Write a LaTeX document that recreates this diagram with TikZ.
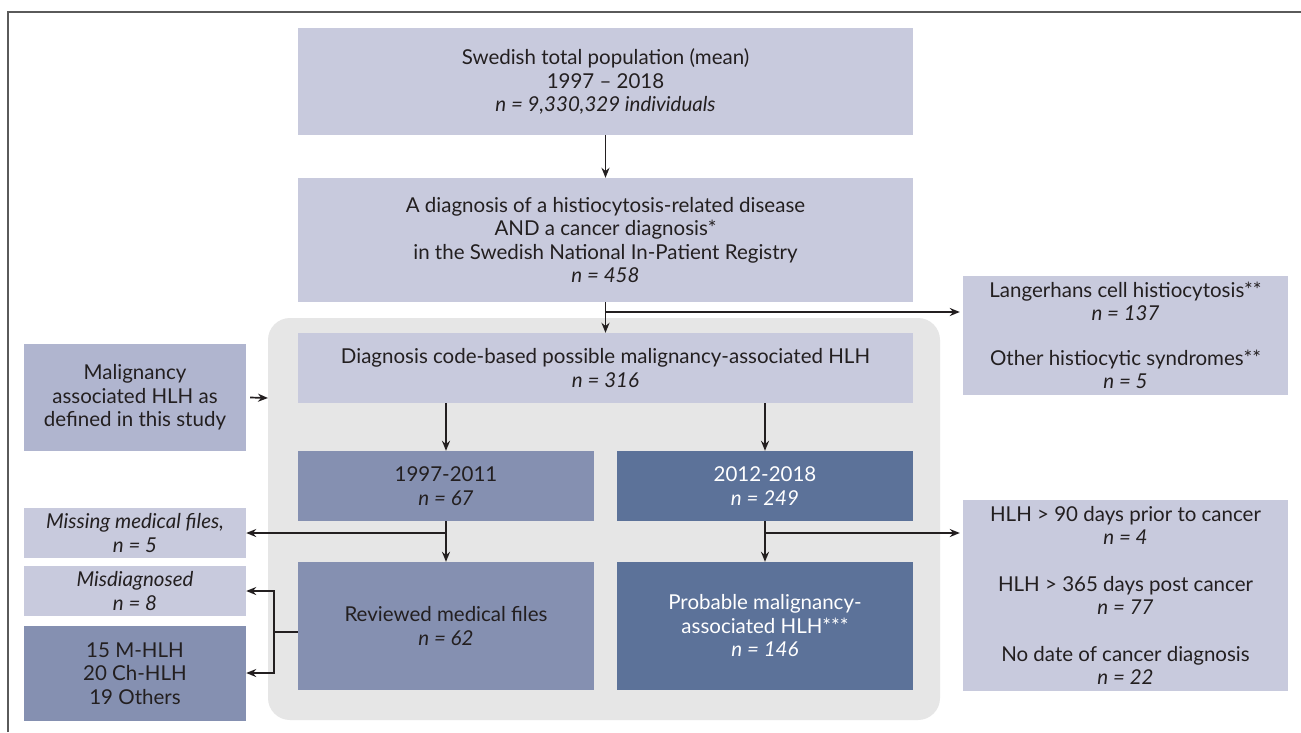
\documentclass[tikz,border=0pt]{standalone}
\usepackage{fontspec}
\setmainfont{Lato}
\usetikzlibrary{arrows.meta}
\definecolor{lightb}{HTML}{C8CADD}
\definecolor{malb}{HTML}{B0B5CF}
\definecolor{midb}{HTML}{8590B1}
\definecolor{darkb}{HTML}{5C7299}
\definecolor{regiong}{HTML}{E6E6E6}
\definecolor{txt}{HTML}{231F20}
\definecolor{framec}{HTML}{5A5A5A}
\tikzset{
  box/.style={rectangle, inner sep=0pt, align=center, text=txt, font=\fontsize{20.5}{23.5}\selectfont},
  lbox/.style={box, fill=lightb},
  mbox/.style={box, fill=midb},
  dbox/.style={box, fill=darkb, text=white},
  arr/.style={line width=1.7pt, draw=txt, -{Stealth[length=10pt,width=8pt]}},
  ln/.style={line width=1.7pt, draw=txt},
}
\begin{document}
\begin{tikzpicture}[x=1pt,y=-1pt]
\useasboundingbox (0,0) rectangle (1301,732);
\fill[white] (0,0) rectangle (1301,732);
\draw[framec, line width=2pt] (8,732) -- (8,12) -- (1301,12);

\fill[regiong, rounded corners=22pt] (268,318) rectangle (940,720);
\coordinate (regW) at (268,398);

\node[lbox, minimum width=615pt, minimum height=107pt] (pop) at (605.5,81.5)
  {Swedish total population (mean)\\ 1997 -- 2018\\ \itshape n = 9,330,329 individuals};
\node[lbox, minimum width=615pt, minimum height=124pt] (diag) at (605.5,240)
  {A diagnosis of a histiocytosis-related disease\\ AND a cancer diagnosis*\\ in the Swedish National In-Patient Registry\\ \itshape n = 458};
\node[lbox, minimum width=615pt, minimum height=70pt] (code) at (605.5,368)
  {Diagnosis code-based possible malignancy-associated HLH\\ \itshape n = 316};
\node[mbox, minimum width=296pt, minimum height=70pt] (early) at (446,486)
  {1997-2011\\ \itshape n = 67};
\node[dbox, minimum width=296pt, minimum height=70pt] (late) at (765,486)
  {2012-2018\\ \itshape n = 249};
\node[mbox, minimum width=296pt, minimum height=128pt] (rev) at (446,626)
  {Reviewed medical files\\ \itshape n = 62};
\node[dbox, minimum width=296pt, minimum height=128pt] (prob) at (765,626)
  {Probable malignancy-\\ associated HLH***\\ \itshape n = 146};

\node[box, fill=malb, minimum width=222pt, minimum height=107pt] (mal) at (135,397.5)
  {Malignancy\\ associated HLH as\\ defined in this study};
\node[lbox, minimum width=222pt, minimum height=50pt] (miss) at (135,533)
  {\itshape Missing medical files,\\ \itshape n = 5};
\node[lbox, minimum width=222pt, minimum height=50pt] (misd) at (135,591)
  {\itshape Misdiagnosed\\ \itshape n = 8};
\node[mbox, minimum width=222pt, minimum height=95pt] (mhlh) at (135,673.5)
  {15 M-HLH\\ 20 Ch-HLH\\ 19 Others};

\node[lbox, minimum width=325pt, minimum height=119pt] (lch) at (1125.5,335.5)
  {Langerhans cell histiocytosis**\\ \itshape n = 137\\[21pt] Other histiocytic syndromes**\\ \itshape n = 5};
\node[lbox, minimum width=325pt, minimum height=191pt] (excl) at (1125.5,595.5)
  {HLH > 90 days prior to cancer\\ \itshape n = 4\\[23pt] HLH > 365 days post cancer\\ \itshape n = 77\\[23pt] No date of cancer diagnosis\\ \itshape n = 22};

% connectors
\draw[arr] (pop.south) -- (diag.north);
\coordinate (j1) at (diag.south |- 0,312);
\draw[arr] (diag.south) -- (code.north);
\draw[arr] (j1) -- ([xshift=-3pt]j1 -| lch.west);
\draw[arr] ([xshift=4pt]mal.east) -- (regW);

\draw[arr] (early.north |- code.south) -- (early.north);
\draw[arr] (late.north |- code.south) -- (late.north);

\coordinate (j2) at (early.south |- 0,533);
\draw[arr] (early.south) -- (rev.north);
\draw[arr] (j2) -- (j2 -| miss.east);

\coordinate (j3) at (late.south |- 0,533);
\draw[arr] (late.south) -- (prob.north);
\draw[arr] (j3) -- ([xshift=-3pt]j3 -| excl.west);

\coordinate (b0) at (274,632);
\draw[ln] (rev.west |- b0) -- (b0);
\draw[arr] (274,591) -- (misd.east |- 0,591);
\draw[arr] (274,673) -- (mhlh.east |- 0,673);
\draw[ln] (274,590.2) -- (274,673.8);
\end{tikzpicture}
\end{document}
